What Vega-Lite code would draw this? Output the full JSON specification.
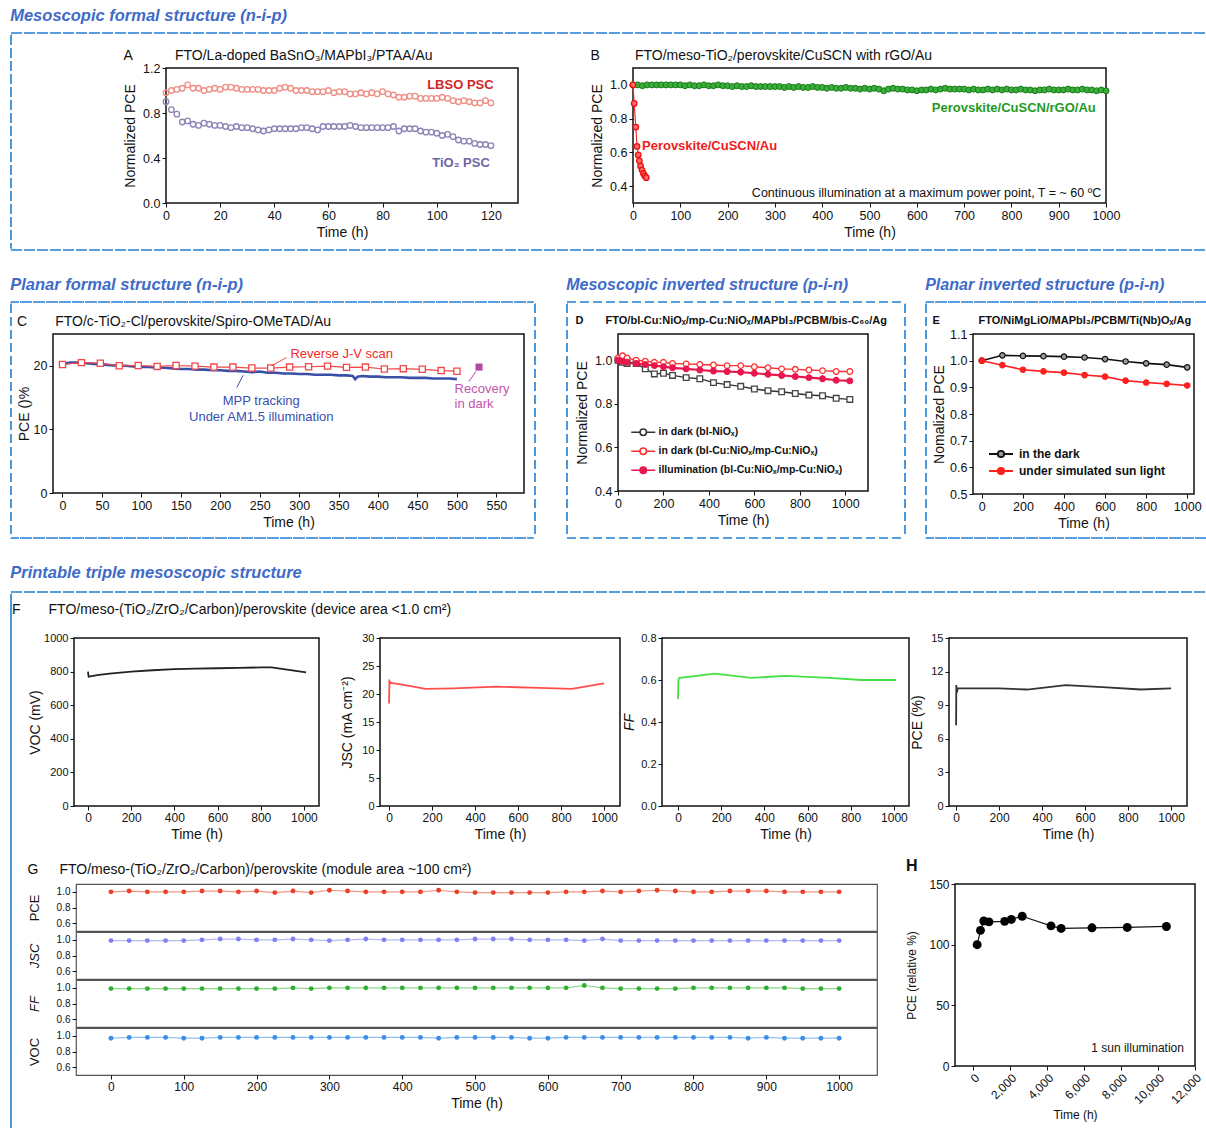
{
"$schema":"https://vega.github.io/schema/vega-lite/v6.json",
"padding":{"left":10,"top":7,"right":0,"bottom":0},
"background":"white",
"config":{
 "font":"Liberation Sans",
 "view":{"stroke":"#111111","strokeWidth":1.5},
 "title":{"anchor":"start","frame":"bounds","fontSize":14,"fontWeight":"normal","color":"#111111","offset":5},
 "axis":{"grid":false,"domain":false,"tickColor":"#111111","tickSize":4,"labelColor":"#111111","titleColor":"#111111","labelFontSize":12.5,"titleFontSize":14,"titleFontWeight":"normal","labelPadding":2,"titlePadding":4,"labelFlush":false,"labelOverlap":false},
 "axisY":{"titlePadding":5},
 "legend":{"labelColor":"#111111","labelFontWeight":"bold","labelLimit":400}
},
"datasets":{
"A":[{"t":0,"v":0.98,"s":"L"},{"t":2,"v":1.00,"s":"L"},{"t":4,"v":1.01,"s":"L"},{"t":6,"v":1.02,"s":"L"},{"t":8,"v":1.05,"s":"L"},{"t":10,"v":1.02,"s":"L"},{"t":12,"v":1.02,"s":"L"},{"t":14,"v":1.00,"s":"L"},{"t":16,"v":1.01,"s":"L"},{"t":18,"v":1.02,"s":"L"},{"t":20,"v":1.01,"s":"L"},{"t":22,"v":1.03,"s":"L"},{"t":24,"v":1.03,"s":"L"},{"t":26,"v":1.02,"s":"L"},{"t":28,"v":1.01,"s":"L"},{"t":30,"v":1.01,"s":"L"},{"t":32,"v":1.01,"s":"L"},{"t":34,"v":1.01,"s":"L"},{"t":36,"v":1.00,"s":"L"},{"t":38,"v":1.00,"s":"L"},{"t":40,"v":1.00,"s":"L"},{"t":42,"v":1.02,"s":"L"},{"t":44,"v":1.03,"s":"L"},{"t":46,"v":1.02,"s":"L"},{"t":48,"v":1.00,"s":"L"},{"t":50,"v":1.00,"s":"L"},{"t":52,"v":1.00,"s":"L"},{"t":54,"v":0.99,"s":"L"},{"t":56,"v":0.99,"s":"L"},{"t":58,"v":0.99,"s":"L"},{"t":60,"v":1.00,"s":"L"},{"t":62,"v":0.98,"s":"L"},{"t":64,"v":0.99,"s":"L"},{"t":66,"v":0.99,"s":"L"},{"t":68,"v":0.97,"s":"L"},{"t":70,"v":0.97,"s":"L"},{"t":72,"v":0.98,"s":"L"},{"t":74,"v":0.97,"s":"L"},{"t":76,"v":0.98,"s":"L"},{"t":78,"v":0.97,"s":"L"},{"t":80,"v":0.99,"s":"L"},{"t":82,"v":0.97,"s":"L"},{"t":84,"v":0.96,"s":"L"},{"t":86,"v":0.94,"s":"L"},{"t":88,"v":0.94,"s":"L"},{"t":90,"v":0.95,"s":"L"},{"t":92,"v":0.95,"s":"L"},{"t":94,"v":0.93,"s":"L"},{"t":96,"v":0.93,"s":"L"},{"t":98,"v":0.93,"s":"L"},{"t":100,"v":0.93,"s":"L"},{"t":102,"v":0.94,"s":"L"},{"t":104,"v":0.93,"s":"L"},{"t":106,"v":0.91,"s":"L"},{"t":108,"v":0.90,"s":"L"},{"t":110,"v":0.91,"s":"L"},{"t":112,"v":0.90,"s":"L"},{"t":114,"v":0.89,"s":"L"},{"t":116,"v":0.89,"s":"L"},{"t":118,"v":0.91,"s":"L"},{"t":120,"v":0.89,"s":"L"},
{"t":0,"v":0.90,"s":"T"},{"t":2,"v":0.83,"s":"T"},{"t":4,"v":0.79,"s":"T"},{"t":6,"v":0.72,"s":"T"},{"t":8,"v":0.73,"s":"T"},{"t":10,"v":0.70,"s":"T"},{"t":12,"v":0.69,"s":"T"},{"t":14,"v":0.71,"s":"T"},{"t":16,"v":0.70,"s":"T"},{"t":18,"v":0.69,"s":"T"},{"t":20,"v":0.69,"s":"T"},{"t":22,"v":0.68,"s":"T"},{"t":24,"v":0.67,"s":"T"},{"t":26,"v":0.68,"s":"T"},{"t":28,"v":0.67,"s":"T"},{"t":30,"v":0.67,"s":"T"},{"t":32,"v":0.66,"s":"T"},{"t":34,"v":0.65,"s":"T"},{"t":36,"v":0.64,"s":"T"},{"t":38,"v":0.65,"s":"T"},{"t":40,"v":0.66,"s":"T"},{"t":42,"v":0.66,"s":"T"},{"t":44,"v":0.66,"s":"T"},{"t":46,"v":0.66,"s":"T"},{"t":48,"v":0.66,"s":"T"},{"t":50,"v":0.67,"s":"T"},{"t":52,"v":0.67,"s":"T"},{"t":54,"v":0.66,"s":"T"},{"t":56,"v":0.65,"s":"T"},{"t":58,"v":0.68,"s":"T"},{"t":60,"v":0.68,"s":"T"},{"t":62,"v":0.68,"s":"T"},{"t":64,"v":0.68,"s":"T"},{"t":66,"v":0.68,"s":"T"},{"t":68,"v":0.69,"s":"T"},{"t":70,"v":0.68,"s":"T"},{"t":72,"v":0.67,"s":"T"},{"t":74,"v":0.67,"s":"T"},{"t":76,"v":0.67,"s":"T"},{"t":78,"v":0.67,"s":"T"},{"t":80,"v":0.67,"s":"T"},{"t":82,"v":0.67,"s":"T"},{"t":84,"v":0.68,"s":"T"},{"t":86,"v":0.64,"s":"T"},{"t":88,"v":0.66,"s":"T"},{"t":90,"v":0.66,"s":"T"},{"t":92,"v":0.66,"s":"T"},{"t":94,"v":0.64,"s":"T"},{"t":96,"v":0.63,"s":"T"},{"t":98,"v":0.63,"s":"T"},{"t":100,"v":0.62,"s":"T"},{"t":102,"v":0.60,"s":"T"},{"t":104,"v":0.61,"s":"T"},{"t":106,"v":0.59,"s":"T"},{"t":108,"v":0.56,"s":"T"},{"t":110,"v":0.55,"s":"T"},{"t":112,"v":0.55,"s":"T"},{"t":114,"v":0.53,"s":"T"},{"t":116,"v":0.52,"s":"T"},{"t":118,"v":0.52,"s":"T"},{"t":120,"v":0.51,"s":"T"}],
"B":[{"t":0,"v":1.0,"s":"g"},{"t":10,"v":1.0,"s":"g"},{"t":20,"v":0.995,"s":"g"},{"t":30,"v":1.0,"s":"g"},{"t":40,"v":1.0,"s":"g"},{"t":50,"v":1.0,"s":"g"},{"t":60,"v":1.0,"s":"g"},{"t":70,"v":1.0,"s":"g"},{"t":80,"v":1.0,"s":"g"},{"t":90,"v":1.0,"s":"g"},
{"t":100,"v":1.0,"s":"g"},{"t":110,"v":0.995,"s":"g"},{"t":120,"v":1.0,"s":"g"},{"t":130,"v":0.995,"s":"g"},{"t":140,"v":0.995,"s":"g"},{"t":150,"v":1.0,"s":"g"},{"t":160,"v":0.995,"s":"g"},{"t":170,"v":0.995,"s":"g"},{"t":180,"v":1.0,"s":"g"},{"t":190,"v":0.995,"s":"g"},
{"t":200,"v":0.995,"s":"g"},{"t":210,"v":0.99,"s":"g"},{"t":220,"v":0.995,"s":"g"},{"t":230,"v":0.99,"s":"g"},{"t":240,"v":0.99,"s":"g"},{"t":250,"v":0.995,"s":"g"},{"t":260,"v":0.99,"s":"g"},{"t":270,"v":0.99,"s":"g"},{"t":280,"v":0.99,"s":"g"},{"t":290,"v":0.99,"s":"g"},
{"t":300,"v":0.99,"s":"g"},{"t":310,"v":0.99,"s":"g"},{"t":320,"v":0.985,"s":"g"},{"t":330,"v":0.99,"s":"g"},{"t":340,"v":0.985,"s":"g"},{"t":350,"v":0.99,"s":"g"},{"t":360,"v":0.985,"s":"g"},{"t":370,"v":0.985,"s":"g"},{"t":380,"v":0.99,"s":"g"},{"t":390,"v":0.985,"s":"g"},
{"t":400,"v":0.985,"s":"g"},{"t":410,"v":0.98,"s":"g"},{"t":420,"v":0.985,"s":"g"},{"t":430,"v":0.98,"s":"g"},{"t":440,"v":0.98,"s":"g"},{"t":450,"v":0.985,"s":"g"},{"t":460,"v":0.98,"s":"g"},{"t":470,"v":0.98,"s":"g"},{"t":480,"v":0.975,"s":"g"},{"t":490,"v":0.98,"s":"g"},
{"t":500,"v":0.975,"s":"g"},{"t":510,"v":0.98,"s":"g"},{"t":520,"v":0.975,"s":"g"},{"t":530,"v":0.965,"s":"g"},{"t":540,"v":0.975,"s":"g"},{"t":550,"v":0.98,"s":"g"},{"t":560,"v":0.975,"s":"g"},{"t":570,"v":0.975,"s":"g"},{"t":580,"v":0.97,"s":"g"},{"t":590,"v":0.97,"s":"g"},
{"t":600,"v":0.965,"s":"g"},{"t":610,"v":0.97,"s":"g"},{"t":620,"v":0.97,"s":"g"},{"t":630,"v":0.975,"s":"g"},{"t":640,"v":0.97,"s":"g"},{"t":650,"v":0.975,"s":"g"},{"t":660,"v":0.98,"s":"g"},{"t":670,"v":0.975,"s":"g"},{"t":680,"v":0.975,"s":"g"},{"t":690,"v":0.975,"s":"g"},
{"t":700,"v":0.975,"s":"g"},{"t":710,"v":0.97,"s":"g"},{"t":720,"v":0.975,"s":"g"},{"t":730,"v":0.97,"s":"g"},{"t":740,"v":0.97,"s":"g"},{"t":750,"v":0.975,"s":"g"},{"t":760,"v":0.97,"s":"g"},{"t":770,"v":0.975,"s":"g"},{"t":780,"v":0.97,"s":"g"},{"t":790,"v":0.975,"s":"g"},
{"t":800,"v":0.97,"s":"g"},{"t":810,"v":0.97,"s":"g"},{"t":820,"v":0.975,"s":"g"},{"t":830,"v":0.97,"s":"g"},{"t":840,"v":0.97,"s":"g"},{"t":850,"v":0.965,"s":"g"},{"t":860,"v":0.97,"s":"g"},{"t":870,"v":0.97,"s":"g"},{"t":880,"v":0.975,"s":"g"},{"t":890,"v":0.97,"s":"g"},
{"t":900,"v":0.97,"s":"g"},{"t":910,"v":0.97,"s":"g"},{"t":920,"v":0.975,"s":"g"},{"t":930,"v":0.97,"s":"g"},{"t":940,"v":0.97,"s":"g"},{"t":950,"v":0.975,"s":"g"},{"t":960,"v":0.97,"s":"g"},{"t":970,"v":0.97,"s":"g"},{"t":980,"v":0.965,"s":"g"},{"t":990,"v":0.97,"s":"g"},{"t":1000,"v":0.965,"s":"g"},
{"t":0,"v":1.0,"s":"r"},{"t":2.5,"v":0.89,"s":"r"},{"t":6,"v":0.75,"s":"r"},{"t":8.5,"v":0.635,"s":"r"},{"t":11,"v":0.585,"s":"r"},{"t":13.5,"v":0.55,"s":"r"},{"t":16,"v":0.52,"s":"r"},{"t":19,"v":0.495,"s":"r"},{"t":22,"v":0.475,"s":"r"},{"t":25,"v":0.46,"s":"r"},{"t":28,"v":0.45,"s":"r"}],
"C":[{"t":0,"v":20.2,"s":"jv"},{"t":24,"v":20.5,"s":"jv"},{"t":48,"v":20.4,"s":"jv"},{"t":72,"v":20.0,"s":"jv"},{"t":96,"v":20.05,"s":"jv"},{"t":120,"v":19.9,"s":"jv"},{"t":144,"v":20.05,"s":"jv"},{"t":168,"v":19.95,"s":"jv"},{"t":192,"v":19.8,"s":"jv"},{"t":216,"v":19.8,"s":"jv"},{"t":240,"v":19.65,"s":"jv"},{"t":264,"v":19.65,"s":"jv"},{"t":288,"v":19.8,"s":"jv"},{"t":312,"v":19.85,"s":"jv"},{"t":336,"v":19.95,"s":"jv"},{"t":360,"v":19.75,"s":"jv"},{"t":384,"v":19.8,"s":"jv"},{"t":408,"v":19.5,"s":"jv"},{"t":432,"v":19.55,"s":"jv"},{"t":456,"v":19.45,"s":"jv"},{"t":480,"v":19.25,"s":"jv"},{"t":500,"v":19.15,"s":"jv"},
{"t":0,"v":20.2,"s":"mpp"},{"t":5,"v":20.4,"s":"mpp"},{"t":10,"v":20.5,"s":"mpp"},{"t":20,"v":20.5,"s":"mpp"},{"t":30,"v":20.4,"s":"mpp"},{"t":40,"v":20.3,"s":"mpp"},{"t":50,"v":20.2,"s":"mpp"},{"t":60,"v":20.1,"s":"mpp"},{"t":70,"v":20.0,"s":"mpp"},{"t":80,"v":20.0,"s":"mpp"},{"t":90,"v":19.9,"s":"mpp"},{"t":100,"v":19.8,"s":"mpp"},{"t":110,"v":19.8,"s":"mpp"},{"t":120,"v":19.7,"s":"mpp"},{"t":130,"v":19.7,"s":"mpp"},{"t":140,"v":19.6,"s":"mpp"},{"t":150,"v":19.5,"s":"mpp"},{"t":160,"v":19.5,"s":"mpp"},{"t":170,"v":19.4,"s":"mpp"},{"t":180,"v":19.4,"s":"mpp"},{"t":190,"v":19.3,"s":"mpp"},{"t":200,"v":19.3,"s":"mpp"},{"t":210,"v":19.2,"s":"mpp"},{"t":220,"v":19.2,"s":"mpp"},{"t":230,"v":19.1,"s":"mpp"},{"t":240,"v":19.0,"s":"mpp"},{"t":250,"v":19.1,"s":"mpp"},{"t":260,"v":18.9,"s":"mpp"},{"t":270,"v":18.9,"s":"mpp"},{"t":280,"v":18.8,"s":"mpp"},{"t":290,"v":18.8,"s":"mpp"},{"t":300,"v":18.7,"s":"mpp"},{"t":310,"v":18.7,"s":"mpp"},{"t":320,"v":18.6,"s":"mpp"},{"t":330,"v":18.6,"s":"mpp"},{"t":340,"v":18.6,"s":"mpp"},{"t":350,"v":18.5,"s":"mpp"},{"t":360,"v":18.5,"s":"mpp"},{"t":368,"v":18.4,"s":"mpp"},{"t":371,"v":17.9,"s":"mpp"},{"t":374,"v":18.3,"s":"mpp"},{"t":380,"v":18.4,"s":"mpp"},{"t":390,"v":18.3,"s":"mpp"},{"t":400,"v":18.3,"s":"mpp"},{"t":410,"v":18.2,"s":"mpp"},{"t":420,"v":18.2,"s":"mpp"},{"t":430,"v":18.2,"s":"mpp"},{"t":440,"v":18.1,"s":"mpp"},{"t":450,"v":18.1,"s":"mpp"},{"t":460,"v":18.1,"s":"mpp"},{"t":470,"v":18.0,"s":"mpp"},{"t":480,"v":18.0,"s":"mpp"},{"t":490,"v":18.0,"s":"mpp"},{"t":500,"v":17.9,"s":"mpp"},
{"t":528,"v":19.8,"s":"rec"}],
"D":[{"t":0,"v":1.0,"s":"in dark (bl-NiOₓ)"},{"t":20,"v":0.99,"s":"in dark (bl-NiOₓ)"},{"t":40,"v":0.985,"s":"in dark (bl-NiOₓ)"},{"t":80,"v":0.985,"s":"in dark (bl-NiOₓ)"},{"t":120,"v":0.96,"s":"in dark (bl-NiOₓ)"},{"t":160,"v":0.937,"s":"in dark (bl-NiOₓ)"},{"t":200,"v":0.94,"s":"in dark (bl-NiOₓ)"},{"t":240,"v":0.93,"s":"in dark (bl-NiOₓ)"},{"t":300,"v":0.92,"s":"in dark (bl-NiOₓ)"},{"t":360,"v":0.915,"s":"in dark (bl-NiOₓ)"},{"t":420,"v":0.897,"s":"in dark (bl-NiOₓ)"},{"t":480,"v":0.888,"s":"in dark (bl-NiOₓ)"},{"t":540,"v":0.88,"s":"in dark (bl-NiOₓ)"},{"t":600,"v":0.868,"s":"in dark (bl-NiOₓ)"},{"t":660,"v":0.86,"s":"in dark (bl-NiOₓ)"},{"t":720,"v":0.855,"s":"in dark (bl-NiOₓ)"},{"t":780,"v":0.847,"s":"in dark (bl-NiOₓ)"},{"t":840,"v":0.84,"s":"in dark (bl-NiOₓ)"},{"t":900,"v":0.837,"s":"in dark (bl-NiOₓ)"},{"t":960,"v":0.825,"s":"in dark (bl-NiOₓ)"},{"t":1020,"v":0.82,"s":"in dark (bl-NiOₓ)"},
{"t":0,"v":1.01,"s":"in dark (bl-Cu:NiOₓ/mp-Cu:NiOₓ)"},{"t":20,"v":1.02,"s":"in dark (bl-Cu:NiOₓ/mp-Cu:NiOₓ)"},{"t":40,"v":1.01,"s":"in dark (bl-Cu:NiOₓ/mp-Cu:NiOₓ)"},{"t":80,"v":1.0,"s":"in dark (bl-Cu:NiOₓ/mp-Cu:NiOₓ)"},{"t":120,"v":0.995,"s":"in dark (bl-Cu:NiOₓ/mp-Cu:NiOₓ)"},{"t":160,"v":0.99,"s":"in dark (bl-Cu:NiOₓ/mp-Cu:NiOₓ)"},{"t":200,"v":0.99,"s":"in dark (bl-Cu:NiOₓ/mp-Cu:NiOₓ)"},{"t":240,"v":0.985,"s":"in dark (bl-Cu:NiOₓ/mp-Cu:NiOₓ)"},{"t":300,"v":0.983,"s":"in dark (bl-Cu:NiOₓ/mp-Cu:NiOₓ)"},{"t":360,"v":0.98,"s":"in dark (bl-Cu:NiOₓ/mp-Cu:NiOₓ)"},{"t":420,"v":0.978,"s":"in dark (bl-Cu:NiOₓ/mp-Cu:NiOₓ)"},{"t":480,"v":0.975,"s":"in dark (bl-Cu:NiOₓ/mp-Cu:NiOₓ)"},{"t":540,"v":0.975,"s":"in dark (bl-Cu:NiOₓ/mp-Cu:NiOₓ)"},{"t":600,"v":0.97,"s":"in dark (bl-Cu:NiOₓ/mp-Cu:NiOₓ)"},{"t":660,"v":0.965,"s":"in dark (bl-Cu:NiOₓ/mp-Cu:NiOₓ)"},{"t":720,"v":0.96,"s":"in dark (bl-Cu:NiOₓ/mp-Cu:NiOₓ)"},{"t":780,"v":0.958,"s":"in dark (bl-Cu:NiOₓ/mp-Cu:NiOₓ)"},{"t":840,"v":0.955,"s":"in dark (bl-Cu:NiOₓ/mp-Cu:NiOₓ)"},{"t":900,"v":0.952,"s":"in dark (bl-Cu:NiOₓ/mp-Cu:NiOₓ)"},{"t":960,"v":0.948,"s":"in dark (bl-Cu:NiOₓ/mp-Cu:NiOₓ)"},{"t":1020,"v":0.948,"s":"in dark (bl-Cu:NiOₓ/mp-Cu:NiOₓ)"},
{"t":0,"v":1.0,"s":"illumination (bl-Cu:NiOₓ/mp-Cu:NiOₓ)"},{"t":20,"v":0.995,"s":"illumination (bl-Cu:NiOₓ/mp-Cu:NiOₓ)"},{"t":40,"v":0.99,"s":"illumination (bl-Cu:NiOₓ/mp-Cu:NiOₓ)"},{"t":80,"v":0.985,"s":"illumination (bl-Cu:NiOₓ/mp-Cu:NiOₓ)"},{"t":120,"v":0.98,"s":"illumination (bl-Cu:NiOₓ/mp-Cu:NiOₓ)"},{"t":160,"v":0.975,"s":"illumination (bl-Cu:NiOₓ/mp-Cu:NiOₓ)"},{"t":200,"v":0.97,"s":"illumination (bl-Cu:NiOₓ/mp-Cu:NiOₓ)"},{"t":240,"v":0.965,"s":"illumination (bl-Cu:NiOₓ/mp-Cu:NiOₓ)"},{"t":300,"v":0.96,"s":"illumination (bl-Cu:NiOₓ/mp-Cu:NiOₓ)"},{"t":360,"v":0.955,"s":"illumination (bl-Cu:NiOₓ/mp-Cu:NiOₓ)"},{"t":420,"v":0.95,"s":"illumination (bl-Cu:NiOₓ/mp-Cu:NiOₓ)"},{"t":480,"v":0.948,"s":"illumination (bl-Cu:NiOₓ/mp-Cu:NiOₓ)"},{"t":540,"v":0.945,"s":"illumination (bl-Cu:NiOₓ/mp-Cu:NiOₓ)"},{"t":600,"v":0.94,"s":"illumination (bl-Cu:NiOₓ/mp-Cu:NiOₓ)"},{"t":660,"v":0.935,"s":"illumination (bl-Cu:NiOₓ/mp-Cu:NiOₓ)"},{"t":720,"v":0.93,"s":"illumination (bl-Cu:NiOₓ/mp-Cu:NiOₓ)"},{"t":780,"v":0.925,"s":"illumination (bl-Cu:NiOₓ/mp-Cu:NiOₓ)"},{"t":840,"v":0.92,"s":"illumination (bl-Cu:NiOₓ/mp-Cu:NiOₓ)"},{"t":900,"v":0.915,"s":"illumination (bl-Cu:NiOₓ/mp-Cu:NiOₓ)"},{"t":960,"v":0.908,"s":"illumination (bl-Cu:NiOₓ/mp-Cu:NiOₓ)"},{"t":1020,"v":0.905,"s":"illumination (bl-Cu:NiOₓ/mp-Cu:NiOₓ)"}],
"E":[{"t":0,"v":1.0,"s":"in the dark"},{"t":100,"v":1.02,"s":"in the dark"},{"t":200,"v":1.018,"s":"in the dark"},{"t":300,"v":1.017,"s":"in the dark"},{"t":400,"v":1.015,"s":"in the dark"},{"t":500,"v":1.012,"s":"in the dark"},{"t":600,"v":1.006,"s":"in the dark"},{"t":700,"v":0.997,"s":"in the dark"},{"t":800,"v":0.99,"s":"in the dark"},{"t":900,"v":0.985,"s":"in the dark"},{"t":1000,"v":0.975,"s":"in the dark"},
{"t":0,"v":1.0,"s":"under simulated sun light"},{"t":100,"v":0.983,"s":"under simulated sun light"},{"t":200,"v":0.966,"s":"under simulated sun light"},{"t":300,"v":0.96,"s":"under simulated sun light"},{"t":400,"v":0.955,"s":"under simulated sun light"},{"t":500,"v":0.946,"s":"under simulated sun light"},{"t":600,"v":0.94,"s":"under simulated sun light"},{"t":700,"v":0.925,"s":"under simulated sun light"},{"t":800,"v":0.918,"s":"under simulated sun light"},{"t":900,"v":0.913,"s":"under simulated sun light"},{"t":1000,"v":0.907,"s":"under simulated sun light"}],
"F":[{"t":0,"v":800,"p":"voc"},{"t":1,"v":785,"p":"voc"},{"t":3,"v":770,"p":"voc"},{"t":10,"v":772,"p":"voc"},{"t":50,"v":780,"p":"voc"},{"t":100,"v":788,"p":"voc"},{"t":200,"v":800,"p":"voc"},{"t":300,"v":808,"p":"voc"},{"t":400,"v":815,"p":"voc"},{"t":500,"v":818,"p":"voc"},{"t":600,"v":820,"p":"voc"},{"t":700,"v":822,"p":"voc"},{"t":800,"v":825,"p":"voc"},{"t":850,"v":825,"p":"voc"},{"t":1010,"v":795,"p":"voc"},
{"t":0,"v":18.3,"p":"jsc"},{"t":2,"v":22.3,"p":"jsc"},{"t":8,"v":22.0,"p":"jsc"},{"t":40,"v":21.8,"p":"jsc"},{"t":100,"v":21.4,"p":"jsc"},{"t":170,"v":20.9,"p":"jsc"},{"t":300,"v":21.0,"p":"jsc"},{"t":500,"v":21.3,"p":"jsc"},{"t":700,"v":21.1,"p":"jsc"},{"t":850,"v":20.9,"p":"jsc"},{"t":1000,"v":21.9,"p":"jsc"},
{"t":0,"v":0.51,"p":"ff"},{"t":2,"v":0.60,"p":"ff"},{"t":6,"v":0.61,"p":"ff"},{"t":50,"v":0.615,"p":"ff"},{"t":170,"v":0.63,"p":"ff"},{"t":340,"v":0.61,"p":"ff"},{"t":500,"v":0.62,"p":"ff"},{"t":700,"v":0.61,"p":"ff"},{"t":850,"v":0.60,"p":"ff"},{"t":1010,"v":0.60,"p":"ff"},
{"t":0,"v":7.2,"p":"pce"},{"t":1,"v":10.8,"p":"pce"},{"t":3,"v":10.1,"p":"pce"},{"t":8,"v":10.5,"p":"pce"},{"t":200,"v":10.5,"p":"pce"},{"t":330,"v":10.4,"p":"pce"},{"t":510,"v":10.8,"p":"pce"},{"t":700,"v":10.6,"p":"pce"},{"t":860,"v":10.4,"p":"pce"},{"t":1000,"v":10.5,"p":"pce"}],
"G":[{"t":0,"v":1.00,"p":"PCE"},{"t":25,"v":1.01,"p":"PCE"},{"t":50,"v":1.00,"p":"PCE"},{"t":75,"v":1.00,"p":"PCE"},{"t":100,"v":1.00,"p":"PCE"},{"t":125,"v":1.01,"p":"PCE"},{"t":150,"v":1.01,"p":"PCE"},{"t":175,"v":1.00,"p":"PCE"},{"t":200,"v":1.01,"p":"PCE"},{"t":225,"v":0.99,"p":"PCE"},{"t":250,"v":1.01,"p":"PCE"},{"t":275,"v":0.99,"p":"PCE"},{"t":300,"v":1.02,"p":"PCE"},{"t":325,"v":1.01,"p":"PCE"},{"t":350,"v":1.00,"p":"PCE"},{"t":375,"v":1.00,"p":"PCE"},{"t":400,"v":1.00,"p":"PCE"},{"t":425,"v":1.00,"p":"PCE"},{"t":450,"v":1.02,"p":"PCE"},{"t":475,"v":1.00,"p":"PCE"},{"t":500,"v":0.99,"p":"PCE"},{"t":525,"v":0.99,"p":"PCE"},{"t":550,"v":0.99,"p":"PCE"},{"t":575,"v":0.99,"p":"PCE"},{"t":600,"v":0.99,"p":"PCE"},{"t":625,"v":1.00,"p":"PCE"},{"t":650,"v":1.00,"p":"PCE"},{"t":675,"v":1.01,"p":"PCE"},{"t":700,"v":1.00,"p":"PCE"},{"t":725,"v":1.01,"p":"PCE"},{"t":750,"v":1.02,"p":"PCE"},{"t":775,"v":1.01,"p":"PCE"},{"t":800,"v":1.00,"p":"PCE"},{"t":825,"v":1.00,"p":"PCE"},{"t":850,"v":1.01,"p":"PCE"},{"t":875,"v":1.01,"p":"PCE"},{"t":900,"v":1.01,"p":"PCE"},{"t":925,"v":1.00,"p":"PCE"},{"t":950,"v":1.00,"p":"PCE"},{"t":975,"v":1.00,"p":"PCE"},{"t":1000,"v":1.00,"p":"PCE"},
{"t":0,"v":0.99,"p":"JSC"},{"t":25,"v":0.99,"p":"JSC"},{"t":50,"v":0.99,"p":"JSC"},{"t":75,"v":0.99,"p":"JSC"},{"t":100,"v":0.99,"p":"JSC"},{"t":125,"v":1.00,"p":"JSC"},{"t":150,"v":1.01,"p":"JSC"},{"t":175,"v":1.01,"p":"JSC"},{"t":200,"v":1.00,"p":"JSC"},{"t":225,"v":1.00,"p":"JSC"},{"t":250,"v":1.01,"p":"JSC"},{"t":275,"v":1.00,"p":"JSC"},{"t":300,"v":0.99,"p":"JSC"},{"t":325,"v":1.00,"p":"JSC"},{"t":350,"v":1.01,"p":"JSC"},{"t":375,"v":1.00,"p":"JSC"},{"t":400,"v":1.00,"p":"JSC"},{"t":425,"v":1.00,"p":"JSC"},{"t":450,"v":1.00,"p":"JSC"},{"t":475,"v":1.00,"p":"JSC"},{"t":500,"v":1.01,"p":"JSC"},{"t":525,"v":1.01,"p":"JSC"},{"t":550,"v":1.01,"p":"JSC"},{"t":575,"v":1.00,"p":"JSC"},{"t":600,"v":1.00,"p":"JSC"},{"t":625,"v":1.00,"p":"JSC"},{"t":650,"v":0.99,"p":"JSC"},{"t":675,"v":1.01,"p":"JSC"},{"t":700,"v":0.99,"p":"JSC"},{"t":725,"v":0.99,"p":"JSC"},{"t":750,"v":0.99,"p":"JSC"},{"t":775,"v":0.99,"p":"JSC"},{"t":800,"v":0.99,"p":"JSC"},{"t":825,"v":0.99,"p":"JSC"},{"t":850,"v":0.99,"p":"JSC"},{"t":875,"v":0.99,"p":"JSC"},{"t":900,"v":0.99,"p":"JSC"},{"t":925,"v":0.99,"p":"JSC"},{"t":950,"v":0.99,"p":"JSC"},{"t":975,"v":0.99,"p":"JSC"},{"t":1000,"v":0.99,"p":"JSC"},
{"t":0,"v":0.99,"p":"FF"},{"t":25,"v":0.99,"p":"FF"},{"t":50,"v":0.99,"p":"FF"},{"t":75,"v":0.99,"p":"FF"},{"t":100,"v":0.99,"p":"FF"},{"t":125,"v":0.99,"p":"FF"},{"t":150,"v":0.99,"p":"FF"},{"t":175,"v":0.99,"p":"FF"},{"t":200,"v":0.99,"p":"FF"},{"t":225,"v":0.99,"p":"FF"},{"t":250,"v":1.00,"p":"FF"},{"t":275,"v":0.99,"p":"FF"},{"t":300,"v":1.00,"p":"FF"},{"t":325,"v":1.00,"p":"FF"},{"t":350,"v":1.00,"p":"FF"},{"t":375,"v":1.00,"p":"FF"},{"t":400,"v":1.00,"p":"FF"},{"t":425,"v":1.00,"p":"FF"},{"t":450,"v":1.00,"p":"FF"},{"t":475,"v":1.00,"p":"FF"},{"t":500,"v":1.00,"p":"FF"},{"t":525,"v":1.00,"p":"FF"},{"t":550,"v":1.00,"p":"FF"},{"t":575,"v":1.00,"p":"FF"},{"t":600,"v":1.00,"p":"FF"},{"t":625,"v":1.00,"p":"FF"},{"t":650,"v":1.03,"p":"FF"},{"t":675,"v":1.00,"p":"FF"},{"t":700,"v":0.99,"p":"FF"},{"t":725,"v":0.99,"p":"FF"},{"t":750,"v":0.99,"p":"FF"},{"t":775,"v":0.99,"p":"FF"},{"t":800,"v":1.00,"p":"FF"},{"t":825,"v":1.00,"p":"FF"},{"t":850,"v":1.00,"p":"FF"},{"t":875,"v":1.00,"p":"FF"},{"t":900,"v":1.00,"p":"FF"},{"t":925,"v":1.00,"p":"FF"},{"t":950,"v":0.99,"p":"FF"},{"t":975,"v":0.99,"p":"FF"},{"t":1000,"v":0.99,"p":"FF"},
{"t":0,"v":0.97,"p":"VOC"},{"t":25,"v":0.98,"p":"VOC"},{"t":50,"v":0.98,"p":"VOC"},{"t":75,"v":0.98,"p":"VOC"},{"t":100,"v":0.97,"p":"VOC"},{"t":125,"v":0.97,"p":"VOC"},{"t":150,"v":0.98,"p":"VOC"},{"t":175,"v":0.98,"p":"VOC"},{"t":200,"v":0.98,"p":"VOC"},{"t":225,"v":0.98,"p":"VOC"},{"t":250,"v":0.98,"p":"VOC"},{"t":275,"v":0.98,"p":"VOC"},{"t":300,"v":0.98,"p":"VOC"},{"t":325,"v":0.98,"p":"VOC"},{"t":350,"v":0.98,"p":"VOC"},{"t":375,"v":0.98,"p":"VOC"},{"t":400,"v":0.98,"p":"VOC"},{"t":425,"v":0.98,"p":"VOC"},{"t":450,"v":0.97,"p":"VOC"},{"t":475,"v":0.98,"p":"VOC"},{"t":500,"v":0.98,"p":"VOC"},{"t":525,"v":0.98,"p":"VOC"},{"t":550,"v":0.98,"p":"VOC"},{"t":575,"v":0.97,"p":"VOC"},{"t":600,"v":0.97,"p":"VOC"},{"t":625,"v":0.98,"p":"VOC"},{"t":650,"v":0.98,"p":"VOC"},{"t":675,"v":0.98,"p":"VOC"},{"t":700,"v":0.98,"p":"VOC"},{"t":725,"v":0.98,"p":"VOC"},{"t":750,"v":0.98,"p":"VOC"},{"t":775,"v":0.98,"p":"VOC"},{"t":800,"v":0.98,"p":"VOC"},{"t":825,"v":0.98,"p":"VOC"},{"t":850,"v":0.98,"p":"VOC"},{"t":875,"v":0.97,"p":"VOC"},{"t":900,"v":0.98,"p":"VOC"},{"t":925,"v":0.97,"p":"VOC"},{"t":950,"v":0.97,"p":"VOC"},{"t":975,"v":0.97,"p":"VOC"},{"t":1000,"v":0.97,"p":"VOC"}],
"H":[{"t":200,"v":100},{"t":380,"v":111.8},{"t":560,"v":119.5},{"t":840,"v":118.8},{"t":1690,"v":119.2},{"t":2050,"v":120.8},{"t":2640,"v":123.4},{"t":4200,"v":115.5},{"t":4750,"v":113.4},{"t":6420,"v":113.9},{"t":8330,"v":114.2},{"t":10450,"v":115.0}]
},
"spacing":25,
"vconcat":[
{"title":{"text":"Mesoscopic formal structure (n-i-p)","fontSize":16.5,"fontWeight":"bold","fontStyle":"italic","color":"#3f6bc8","offset":8},
 "spacing":0,
 "vconcat":[
  {"width":1195,"height":0.01,"data":{"values":[]},"mark":"point","encoding":{},"view":{"stroke":"#1f7fd4","strokeWidth":1.6,"strokeDash":[8,5]}},
  {"spacing":0,"hconcat":[
   {"width":0.01,"height":213,"data":{"values":[]},"mark":"point","encoding":{},"view":{"stroke":"#1f7fd4","strokeWidth":1.6,"strokeDash":[8,5]}},
   {"spacing":12,"vconcat":[
    {"width":1195,"height":0.01,"data":{"values":[]},"mark":"point","encoding":{},"view":{"stroke":null}},
    {"spacing":70,
     "resolve":{"scale":{"color":"independent"},"legend":{"color":"independent"}},
     "hconcat":[
     {"width":40,"height":1,"data":{"values":[]},"mark":"point","encoding":{},"view":{"stroke":null}},
     {"width":352,"height":135,
      "title":{"text":"A\u2003\u2003\u2003FTO/La-doped BaSnO₃/MAPbI₃/PTAA/Au","offset":-1},
      "data":{"name":"A"},
      "layer":[
       {"mark":{"type":"point","filled":false,"size":30,"strokeWidth":1.3,"opacity":1},
        "encoding":{
         "x":{"field":"t","type":"quantitative","scale":{"domain":[0,130],"nice":false},"axis":{"title":"Time (h)","values":[0,20,40,60,80,100,120]}},
         "y":{"field":"v","type":"quantitative","scale":{"domain":[0,1.2],"nice":false},"axis":{"title":"Normalized PCE","values":[0,0.2,0.4,0.6,0.8,1.0,1.2],"format":".1f"}},
         "color":{"field":"s","type":"nominal","scale":{"domain":["L","T"],"range":["#ef8f85","#8c84b6"]},"legend":null}}},
       {"data":{"values":[{}]},"mark":{"type":"text","align":"right","fontWeight":"bold","fontSize":13,"color":"#d02828"},"encoding":{"x":{"datum":121},"y":{"datum":1.05},"text":{"value":"LBSO PSC"}}},
       {"data":{"values":[{}]},"mark":{"type":"text","align":"right","fontWeight":"bold","fontSize":13,"color":"#6f66a6"},"encoding":{"x":{"datum":119.6},"y":{"datum":0.355},"text":{"value":"TiO₂ PSC"}}}
      ]},
     {"width":473,"height":135,
      "title":{"text":"B\u2003\u2003\u2002FTO/meso-TiO₂/perovskite/CuSCN with rGO/Au"},
      "data":{"name":"B"},
      "layer":[
       {"transform":[{"filter":"datum.s==='g'"}],"mark":{"type":"point","filled":true,"size":36,"fill":"#3aae3a","stroke":"#1a7a1a","strokeWidth":1,"opacity":1},
        "encoding":{
         "x":{"field":"t","type":"quantitative","scale":{"domain":[0,1000],"nice":false},"axis":{"title":"Time (h)","values":[0,100,200,300,400,500,600,700,800,900,1000],"format":"d"}},
         "y":{"field":"v","type":"quantitative","scale":{"domain":[0.3,1.1],"nice":false},"axis":{"title":"Normalized PCE","values":[0.4,0.6,0.8,1.0],"format":".1f"}}}},
       {"transform":[{"filter":"datum.s==='r'"}],"mark":{"type":"line","color":"#ff2a2a","strokeWidth":1.2},"encoding":{"x":{"field":"t","type":"quantitative"},"y":{"field":"v","type":"quantitative"}}},
       {"transform":[{"filter":"datum.s==='r'"}],"mark":{"type":"point","filled":true,"size":30,"fill":"#ff6a6a","stroke":"#ee1111","strokeWidth":1.3,"opacity":1},"encoding":{"x":{"field":"t","type":"quantitative"},"y":{"field":"v","type":"quantitative"}}},
       {"data":{"values":[{}]},"mark":{"type":"text","align":"center","fontWeight":"bold","fontSize":13,"color":"#1f9a1f"},"encoding":{"x":{"datum":805},"y":{"datum":0.862},"text":{"value":"Perovskite/CuSCN/rGO/Au"}}},
       {"data":{"values":[{}]},"mark":{"type":"text","align":"left","fontWeight":"bold","fontSize":13,"color":"#ee1c1c"},"encoding":{"x":{"datum":19},"y":{"datum":0.635},"text":{"value":"Perovskite/CuSCN/Au"}}},
       {"data":{"values":[{}]},"mark":{"type":"text","align":"right","fontSize":12.5,"color":"#111111"},"encoding":{"x":{"datum":990},"y":{"datum":0.36},"text":{"value":"Continuous illumination at a maximum power point, T = ~ 60 ºC"}}}
      ]}
    ]}
   ]},
   {"width":0.01,"height":213,"data":{"values":[]},"mark":"point","encoding":{},"view":{"stroke":"#1f7fd4","strokeWidth":1.6,"strokeDash":[8,5]}}
  ]},
  {"width":1195,"height":0.01,"data":{"values":[]},"mark":"point","encoding":{},"view":{"stroke":"#1f7fd4","strokeWidth":1.6,"strokeDash":[8,5]}}
 ]},
{"spacing":30,"hconcat":[
 {"title":{"text":"Planar formal structure (n-i-p)","fontSize":16.5,"fontWeight":"bold","fontStyle":"italic","color":"#3f6bc8","offset":8},
  "spacing":0,
  "vconcat":[
   {"width":522,"height":0.01,"data":{"values":[]},"mark":"point","encoding":{},"view":{"stroke":"#1f7fd4","strokeWidth":1.6,"strokeDash":[8,5]}},
   {"spacing":0,"hconcat":[
    {"width":0.01,"height":232,"data":{"values":[]},"mark":"point","encoding":{},"view":{"stroke":"#1f7fd4","strokeWidth":1.6,"strokeDash":[8,5]}},
    {"spacing":9,"vconcat":[
     {"width":522,"height":0.01,"data":{"values":[]},"mark":"point","encoding":{},"view":{"stroke":null}},
     {"spacing":3,"hconcat":[
      {"width":1,"height":1,"data":{"values":[]},"mark":"point","encoding":{},"view":{"stroke":null}},
      {"width":471,"height":159,
       "title":{"text":"C\u2003\u2002\u2002FTO/c-TiO₂-Cl/perovskite/Spiro-OMeTAD/Au"},
       "data":{"name":"C"},
       "layer":[
        {"transform":[{"filter":"datum.s==='mpp'"}],"mark":{"type":"line","color":"#3a4fa8","strokeWidth":2.6},
         "encoding":{
          "x":{"field":"t","type":"quantitative","scale":{"domain":[-12,585],"nice":false},"axis":{"title":"Time (h)","values":[0,50,100,150,200,250,300,350,400,450,500,550]}},
          "y":{"field":"v","type":"quantitative","scale":{"domain":[0,25],"nice":false},"axis":{"title":"PCE ()%","values":[0,5,10,15,20],"titlePadding":2}}}},
        {"transform":[{"filter":"datum.s==='jv'"}],"mark":{"type":"line","color":"#f04848","strokeWidth":1.2},"encoding":{"x":{"field":"t","type":"quantitative"},"y":{"field":"v","type":"quantitative"}}},
        {"transform":[{"filter":"datum.s==='jv'"}],"mark":{"type":"point","shape":"square","filled":true,"fill":"#ffffff","stroke":"#f04848","strokeWidth":1.3,"size":38,"opacity":1},"encoding":{"x":{"field":"t","type":"quantitative"},"y":{"field":"v","type":"quantitative"}}},
        {"transform":[{"filter":"datum.s==='rec'"}],"mark":{"type":"point","shape":"square","filled":true,"color":"#b04aa2","size":50,"opacity":1},"encoding":{"x":{"field":"t","type":"quantitative"},"y":{"field":"v","type":"quantitative"}}},
        {"data":{"values":[{}]},"mark":{"type":"rule","color":"#f04848","strokeWidth":1},"encoding":{"x":{"datum":265},"y":{"datum":20.0},"x2":{"datum":284},"y2":{"datum":21.3}}},
        {"data":{"values":[{}]},"mark":{"type":"rule","color":"#3a4fa8","strokeWidth":1},"encoding":{"x":{"datum":229},"y":{"datum":18.5},"x2":{"datum":221},"y2":{"datum":16.6}}},
        {"data":{"values":[{}]},"mark":{"type":"rule","color":"#b04aa2","strokeWidth":1},"encoding":{"x":{"datum":524},"y":{"datum":19.1},"x2":{"datum":515},"y2":{"datum":17.5}}},
        {"data":{"values":[{}]},"mark":{"type":"text","align":"left","fontSize":13,"color":"#ee2a2a"},"encoding":{"x":{"datum":289},"y":{"datum":21.8},"text":{"value":"Reverse J-V scan"}}},
        {"data":{"values":[{}]},"mark":{"type":"text","align":"center","fontSize":13,"color":"#3a50b0"},"encoding":{"x":{"datum":252},"y":{"datum":14.4},"text":{"value":"MPP tracking"}}},
        {"data":{"values":[{}]},"mark":{"type":"text","align":"center","fontSize":13,"color":"#3a50b0"},"encoding":{"x":{"datum":252},"y":{"datum":11.9},"text":{"value":"Under AM1.5 illumination"}}},
        {"data":{"values":[{}]},"mark":{"type":"text","align":"left","fontSize":13,"color":"#c455aa"},"encoding":{"x":{"datum":497},"y":{"datum":16.4},"text":{"value":"Recovery"}}},
        {"data":{"values":[{}]},"mark":{"type":"text","align":"left","fontSize":13,"color":"#c455aa"},"encoding":{"x":{"datum":497},"y":{"datum":14.0},"text":{"value":"in dark"}}}
       ]}
     ]}
    ]},
    {"width":0.01,"height":232,"data":{"values":[]},"mark":"point","encoding":{},"view":{"stroke":"#1f7fd4","strokeWidth":1.6,"strokeDash":[8,5]}}
   ]},
   {"width":522,"height":0.01,"data":{"values":[]},"mark":"point","encoding":{},"view":{"stroke":"#1f7fd4","strokeWidth":1.6,"strokeDash":[8,5]}}
  ]},
 {"spacing":19,"hconcat":[
  {"title":{"text":"Mesoscopic inverted structure (p-i-n)","fontSize":16,"fontWeight":"bold","fontStyle":"italic","color":"#3f6bc8","offset":8},
   "spacing":0,
   "vconcat":[
    {"width":336,"height":0.01,"data":{"values":[]},"mark":"point","encoding":{},"view":{"stroke":"#1f7fd4","strokeWidth":1.6,"strokeDash":[8,5]}},
    {"spacing":0,"hconcat":[
     {"width":0.01,"height":232,"data":{"values":[]},"mark":"point","encoding":{},"view":{"stroke":"#1f7fd4","strokeWidth":1.6,"strokeDash":[8,5]}},
     {"spacing":9,"vconcat":[
      {"width":336,"height":0.01,"data":{"values":[]},"mark":"point","encoding":{},"view":{"stroke":null}},
      {"spacing":5,
       "resolve":{"scale":{"stroke":"independent","fill":"independent"},"legend":{"stroke":"independent","fill":"independent"}},
       "hconcat":[
       {"width":1,"height":1,"data":{"values":[]},"mark":"point","encoding":{},"view":{"stroke":null}},
       {"width":250,"height":157,
        "title":{"text":"D\u2003\u2003FTO/bl-Cu:NiOₓ/mp-Cu:NiOₓ/MAPbI₃/PCBM/bis-C₆₀/Ag","fontSize":11,"fontWeight":"bold","offset":8},
        "data":{"name":"D"},
        "encoding":{
         "x":{"field":"t","type":"quantitative","scale":{"domain":[0,1100],"nice":false},"axis":{"title":"Time (h)","values":[0,200,400,600,800,1000],"format":"d"}},
         "y":{"field":"v","type":"quantitative","scale":{"domain":[0.4,1.12],"nice":false},"axis":{"title":"Normalized PCE","values":[0.4,0.6,0.8,1.0],"format":".1f"}}},
        "layer":[
         {"transform":[{"filter":"datum.s==='in dark (bl-NiOₓ)'"}],"mark":{"type":"line","color":"#333333","strokeWidth":1.4}},
         {"transform":[{"filter":"datum.s==='in dark (bl-Cu:NiOₓ/mp-Cu:NiOₓ)'"}],"mark":{"type":"line","color":"#ff3030","strokeWidth":1.4}},
         {"transform":[{"filter":"datum.s==='illumination (bl-Cu:NiOₓ/mp-Cu:NiOₓ)'"}],"mark":{"type":"line","color":"#e8174e","strokeWidth":2.2}},
         {"transform":[{"filter":"datum.s==='in dark (bl-NiOₓ)'"}],"mark":{"type":"point","shape":"square","filled":true,"fill":"#ffffff","stroke":"#444444","size":32,"strokeWidth":1.3,"opacity":1}},
         {"transform":[{"filter":"datum.s!=='in dark (bl-NiOₓ)'"}],"mark":{"type":"point","shape":"circle","size":32,"strokeWidth":1.3,"opacity":1},
          "encoding":{
           "stroke":{"field":"s","type":"nominal","scale":{"domain":["in dark (bl-NiOₓ)","in dark (bl-Cu:NiOₓ/mp-Cu:NiOₓ)","illumination (bl-Cu:NiOₓ/mp-Cu:NiOₓ)"],"range":["#333333","#ff3030","#e8174e"]},
            "legend":{"title":null,"orient":"bottom-left","offset":14,"labelFontSize":10.5,"labelFontWeight":"bold","symbolSize":64,"rowPadding":5,"symbolStrokeWidth":1.6,"symbolOffset":6,"labelOffset":10,"labelLimit":400,"symbolType":"M-3,0H-0.8M0.8,0H3M-0.8,0A0.8,0.8,0,1,1,0.8,0A0.8,0.8,0,1,1,-0.8,0Z"}},
           "fill":{"field":"s","type":"nominal","scale":{"domain":["in dark (bl-NiOₓ)","in dark (bl-Cu:NiOₓ/mp-Cu:NiOₓ)","illumination (bl-Cu:NiOₓ/mp-Cu:NiOₓ)"],"range":["#ffffff","#ffffff","#e8174e"]},
            "legend":{"title":null,"orient":"bottom-left","offset":14,"labelFontSize":10.5,"labelFontWeight":"bold","symbolSize":64,"rowPadding":5,"symbolStrokeWidth":1.6,"symbolOffset":6,"labelOffset":10,"labelLimit":400,"symbolType":"M-3,0H-0.8M0.8,0H3M-0.8,0A0.8,0.8,0,1,1,0.8,0A0.8,0.8,0,1,1,-0.8,0Z"}}}}
        ]}
      ]}
     ]},
     {"width":0.01,"height":232,"data":{"values":[]},"mark":"point","encoding":{},"view":{"stroke":"#1f7fd4","strokeWidth":1.6,"strokeDash":[8,5]}}
    ]},
    {"width":336,"height":0.01,"data":{"values":[]},"mark":"point","encoding":{},"view":{"stroke":"#1f7fd4","strokeWidth":1.6,"strokeDash":[8,5]}}
   ]},
  {"title":{"text":"Planar inverted structure (p-i-n)","fontSize":16,"fontWeight":"bold","fontStyle":"italic","color":"#3f6bc8","offset":8},
   "spacing":0,
   "vconcat":[
    {"width":288,"height":0.01,"data":{"values":[]},"mark":"point","encoding":{},"view":{"stroke":"#1f7fd4","strokeWidth":1.6,"strokeDash":[8,5]}},
    {"spacing":0,"hconcat":[
     {"width":0.01,"height":232,"data":{"values":[]},"mark":"point","encoding":{},"view":{"stroke":"#1f7fd4","strokeWidth":1.6,"strokeDash":[8,5]}},
     {"spacing":9,"vconcat":[
      {"width":288,"height":0.01,"data":{"values":[]},"mark":"point","encoding":{},"view":{"stroke":null}},
      {"spacing":3,
       "resolve":{"scale":{"stroke":"independent","fill":"independent"},"legend":{"stroke":"independent","fill":"independent"}},
       "hconcat":[
       {"width":1,"height":1,"data":{"values":[]},"mark":"point","encoding":{},"view":{"stroke":null}},
       {"width":221,"height":160,
        "title":{"text":"E\u2003\u2003\u2003\u2002FTO/NiMgLiO/MAPbI₃/PCBM/Ti(Nb)Oₓ/Ag","fontSize":11,"fontWeight":"bold","offset":2},
        "data":{"name":"E"},
        "encoding":{
         "x":{"field":"t","type":"quantitative","scale":{"domain":[-43,1033],"nice":false},"axis":{"title":"Time (h)","values":[0,200,400,600,800,1000],"format":"d"}},
         "y":{"field":"v","type":"quantitative","scale":{"domain":[0.5,1.1],"nice":false},"axis":{"title":"Nomalized PCE","values":[0.5,0.6,0.7,0.8,0.9,1.0,1.1],"format":".1f","titlePadding":3}}},
        "layer":[
         {"transform":[{"filter":"datum.s==='in the dark'"}],"mark":{"type":"line","color":"#111111","strokeWidth":1.6}},
         {"transform":[{"filter":"datum.s==='under simulated sun light'"}],"mark":{"type":"line","color":"#ff2020","strokeWidth":1.6}},
         {"mark":{"type":"point","size":30,"strokeWidth":1.2,"opacity":1},
          "encoding":{
           "stroke":{"field":"s","type":"nominal","scale":{"domain":["in the dark","under simulated sun light"],"range":["#111111","#ff2020"]},
            "legend":{"title":null,"orient":"bottom-left","offset":16,"labelFontSize":12,"labelFontWeight":"bold","symbolSize":64,"rowPadding":3,"symbolStrokeWidth":1.8,"symbolOffset":6,"labelOffset":12,"labelLimit":400,"symbolType":"M-3,0H-0.8M0.8,0H3M-0.8,0A0.8,0.8,0,1,1,0.8,0A0.8,0.8,0,1,1,-0.8,0Z"}},
           "fill":{"field":"s","type":"nominal","scale":{"domain":["in the dark","under simulated sun light"],"range":["#9a9a9a","#ff2020"]},
            "legend":{"title":null,"orient":"bottom-left","offset":16,"labelFontSize":12,"labelFontWeight":"bold","symbolSize":64,"rowPadding":3,"symbolStrokeWidth":1.8,"symbolOffset":6,"labelOffset":12,"labelLimit":400,"symbolType":"M-3,0H-0.8M0.8,0H3M-0.8,0A0.8,0.8,0,1,1,0.8,0A0.8,0.8,0,1,1,-0.8,0Z"}}}}
        ]}
      ]}
     ]},
     {"width":0.01,"height":232,"data":{"values":[]},"mark":"point","encoding":{},"view":{"stroke":"#1f7fd4","strokeWidth":1.6,"strokeDash":[8,5]}}
    ]},
    {"width":288,"height":0.01,"data":{"values":[]},"mark":"point","encoding":{},"view":{"stroke":"#1f7fd4","strokeWidth":1.6,"strokeDash":[8,5]}}
   ]}
 ]}
]},
{"title":{"text":"Printable triple mesoscopic structure","fontSize":16.5,"fontWeight":"bold","fontStyle":"italic","color":"#3f6bc8","offset":10},
 "spacing":0,
 "vconcat":[
  {"width":1195,"height":0.01,"data":{"values":[]},"mark":"point","encoding":{},"view":{"stroke":"#1f7fd4","strokeWidth":1.6,"strokeDash":[8,5]}},
  {"spacing":0,"hconcat":[
   {"width":0.01,"height":540,"data":{"values":[]},"mark":"point","encoding":{},"view":{"stroke":"#1f7fd4","strokeWidth":1.6,"strokeDash":[8,5]}},
   {"spacing":8,"vconcat":[
    {"width":1195,"height":0.01,"data":{"values":[]},"mark":"point","encoding":{},"view":{"stroke":null}},
    {"spacing":15,"vconcat":[
     {"title":{"text":"F\u2003\u2003FTO/meso-(TiO₂/ZrO₂/Carbon)/perovskite (device area <1.0 cm²)","offset":14},
      "spacing":20,
      "hconcat":[
       {"spacing":14,"hconcat":[
        {"width":1,"height":1,"data":{"values":[]},"mark":"point","encoding":{},"view":{"stroke":null}},
        {"width":245,"height":168,"data":{"name":"F"},"transform":[{"filter":"datum.p==='voc'"}],
         "mark":{"type":"line","color":"#222222","strokeWidth":1.8},
         "encoding":{
          "x":{"field":"t","type":"quantitative","scale":{"domain":[-65,1070],"nice":false},"axis":{"title":"Time (h)","values":[0,200,400,600,800,1000],"format":"d","labelFontSize":12}},
          "y":{"field":"v","type":"quantitative","scale":{"domain":[0,1000],"nice":false},"axis":{"title":"VOC (mV)","values":[0,200,400,600,800,1000],"format":"d","titlePadding":1,"labelFontSize":11}}}}
       ]},
       {"spacing":0,"hconcat":[
        {"width":240,"height":168,"data":{"name":"F"},"transform":[{"filter":"datum.p==='jsc'"}],
         "mark":{"type":"line","color":"#ff4d4d","strokeWidth":1.8},
         "encoding":{
          "x":{"field":"t","type":"quantitative","scale":{"domain":[-42,1074],"nice":false},"axis":{"title":"Time (h)","values":[0,200,400,600,800,1000],"format":"d","labelFontSize":12}},
          "y":{"field":"v","type":"quantitative","scale":{"domain":[0,30],"nice":false},"axis":{"title":"JSC (mA cm⁻²)","values":[0,5,10,15,20,25,30],"titlePadding":7,"labelFontSize":11}}}},
        {"width":247,"height":168,"data":{"name":"F"},"transform":[{"filter":"datum.p==='ff'"}],
         "mark":{"type":"line","color":"#44e044","strokeWidth":1.8},
         "encoding":{
          "x":{"field":"t","type":"quantitative","scale":{"domain":[-74,1070],"nice":false},"axis":{"title":"Time (h)","values":[0,200,400,600,800,1000],"format":"d","labelFontSize":12}},
          "y":{"field":"v","type":"quantitative","scale":{"domain":[0,0.8],"nice":false},"axis":{"title":"FF","titleFontStyle":"italic","values":[0,0.2,0.4,0.6,0.8],"format":".1f","titlePadding":4,"labelFontSize":11}}}},
        {"width":238,"height":168,"data":{"name":"F"},"transform":[{"filter":"datum.p==='pce'"}],
         "mark":{"type":"line","color":"#333333","strokeWidth":1.8},
         "encoding":{
          "x":{"field":"t","type":"quantitative","scale":{"domain":[-33,1074],"nice":false},"axis":{"title":"Time (h)","values":[0,200,400,600,800,1000],"format":"d","labelFontSize":12}},
          "y":{"field":"v","type":"quantitative","scale":{"domain":[0,15],"nice":false},"axis":{"title":"PCE (%)","values":[0,3,6,9,12,15],"titlePadding":6,"labelFontSize":11}}}}
       ]}
      ]},
     {"spacing":27,"hconcat":[
      {"spacing":14,"hconcat":[
       {"width":1,"height":1,"data":{"values":[]},"mark":"point","encoding":{},"view":{"stroke":null}},
       {"title":{"text":"G\u2003\u2002FTO/meso-(TiO₂/ZrO₂/Carbon)/perovskite (module area ~100 cm²)","offset":6},
        "spacing":-2,
        "vconcat":[
         {"width":801,"height":47,"view":{"stroke":"#555555","strokeWidth":1.2},"data":{"name":"G"},"transform":[{"filter":"datum.p==='PCE'"}],
          "encoding":{
           "x":{"field":"t","type":"quantitative","scale":{"domain":[-48,1052],"nice":false},"axis":null},
           "y":{"field":"v","type":"quantitative","scale":{"domain":[0.5,1.1],"nice":false},"axis":{"title":"PCE","values":[0.6,0.8,1.0],"format":".1f","labelFontSize":10,"titleFontSize":13,"titlePadding":15}}},
          "layer":[{"mark":{"type":"line","color":"#e8402a","opacity":0.55,"strokeWidth":1.2}},{"mark":{"type":"circle","color":"#e8402a","size":24,"opacity":1}}]},
         {"width":801,"height":47,"view":{"stroke":"#555555","strokeWidth":1.2},"data":{"name":"G"},"transform":[{"filter":"datum.p==='JSC'"}],
          "encoding":{
           "x":{"field":"t","type":"quantitative","scale":{"domain":[-48,1052],"nice":false},"axis":null},
           "y":{"field":"v","type":"quantitative","scale":{"domain":[0.5,1.1],"nice":false},"axis":{"title":"JSC","titleFontStyle":"italic","values":[0.6,0.8,1.0],"format":".1f","labelFontSize":10,"titleFontSize":13,"titlePadding":15}}},
          "layer":[{"mark":{"type":"line","color":"#8080f0","opacity":0.55,"strokeWidth":1.2}},{"mark":{"type":"circle","color":"#8080f0","size":24,"opacity":1}}]},
         {"width":801,"height":47,"view":{"stroke":"#555555","strokeWidth":1.2},"data":{"name":"G"},"transform":[{"filter":"datum.p==='FF'"}],
          "encoding":{
           "x":{"field":"t","type":"quantitative","scale":{"domain":[-48,1052],"nice":false},"axis":null},
           "y":{"field":"v","type":"quantitative","scale":{"domain":[0.5,1.1],"nice":false},"axis":{"title":"FF","titleFontStyle":"italic","values":[0.6,0.8,1.0],"format":".1f","labelFontSize":10,"titleFontSize":13,"titlePadding":15}}},
          "layer":[{"mark":{"type":"line","color":"#30b030","opacity":0.55,"strokeWidth":1.2}},{"mark":{"type":"circle","color":"#30b030","size":24,"opacity":1}}]},
         {"width":801,"height":47,"view":{"stroke":"#555555","strokeWidth":1.2},"data":{"name":"G"},"transform":[{"filter":"datum.p==='VOC'"}],
          "encoding":{
           "x":{"field":"t","type":"quantitative","scale":{"domain":[-48,1052],"nice":false},"axis":{"title":"Time (h)","values":[0,100,200,300,400,500,600,700,800,900,1000],"format":"d","labelFontSize":12}},
           "y":{"field":"v","type":"quantitative","scale":{"domain":[0.5,1.1],"nice":false},"axis":{"title":"VOC","values":[0.6,0.8,1.0],"format":".1f","labelFontSize":10,"titleFontSize":13,"titlePadding":15}}},
          "layer":[{"mark":{"type":"line","color":"#3a8ee8","opacity":0.55,"strokeWidth":1.2}},{"mark":{"type":"circle","color":"#3a8ee8","size":24,"opacity":1}}]}
        ]}
      ]},
      {"width":240,"height":182,
       "title":{"text":"H","fontSize":16,"fontWeight":"bold","offset":4},
       "layer":[
        {"data":{"name":"H"},"mark":{"type":"line","color":"#111111","strokeWidth":1.2},
         "encoding":{
          "x":{"field":"t","type":"quantitative","scale":{"domain":[-1000,12000],"nice":false},"axis":{"title":"Time (h)","values":[0,2000,4000,6000,8000,10000,12000],"format":",d","labelAngle":-45,"labelFontSize":12,"titleFontSize":12,"labelOverlap":false}},
          "y":{"field":"v","type":"quantitative","scale":{"domain":[0,150],"nice":false},"axis":{"title":"PCE (relative %)","values":[0,50,100,150],"labelFontSize":12,"titleFontSize":12,"titlePadding":10,"labelOverlap":false}}}},
        {"data":{"name":"H"},"mark":{"type":"circle","color":"#000000","size":80,"opacity":1},
         "encoding":{
          "x":{"field":"t","type":"quantitative","axis":{"title":"Time (h)","values":[0,2000,4000,6000,8000,10000,12000],"format":",d","labelAngle":-45,"labelFontSize":12,"titleFontSize":12,"labelOverlap":false}},
          "y":{"field":"v","type":"quantitative","axis":{"title":"PCE (relative %)","values":[0,50,100,150],"labelFontSize":12,"titleFontSize":12,"titlePadding":10,"labelOverlap":false}}}},
        {"data":{"values":[{"label":"1 sun illumination"}]},"mark":{"type":"text","align":"right","fontSize":12,"color":"#111111"},
         "encoding":{
          "x":{"datum":11400,"axis":{"title":"Time (h)","values":[0,2000,4000,6000,8000,10000,12000],"format":",d","labelAngle":-45,"labelFontSize":12,"titleFontSize":12,"labelOverlap":false}},
          "y":{"datum":15,"axis":{"title":"PCE (relative %)","values":[0,50,100,150],"labelFontSize":12,"titleFontSize":12,"titlePadding":10,"labelOverlap":false}},
          "text":{"field":"label","type":"nominal"}}}
       ]}
     ]}
    ]}
   ]},
   {"width":0.01,"height":540,"data":{"values":[]},"mark":"point","encoding":{},"view":{"stroke":"#1f7fd4","strokeWidth":1.6,"strokeDash":[8,5]}}
  ]}
 ]}
]
}
